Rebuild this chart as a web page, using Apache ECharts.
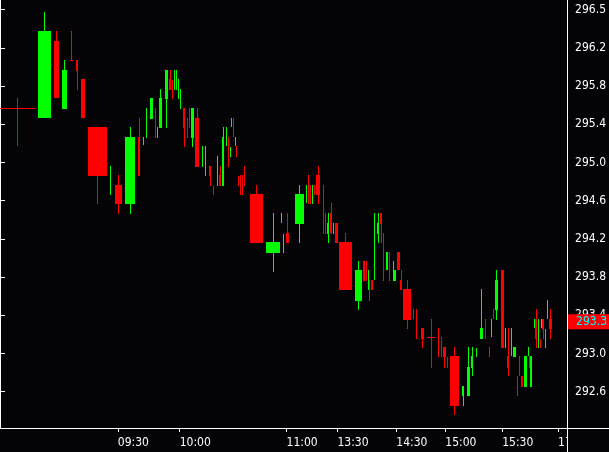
<!DOCTYPE html>
<html>
<head>
<meta charset="utf-8">
<script src="https://cdn.jsdelivr.net/npm/echarts@6.0.0/dist/echarts.min.js"></script>
<style>
html,body{margin:0;padding:0;background:#040305;}
#chart{width:609px;height:452px;}
</style>
</head>
<body>
<div id="chart"></div>
<script>
// Equivolume candles: cumulative volume at each candle's start, and its volume (width)
const cumVol = [0,38,54,62,70,76,81,88,110,115,125,138,143,146,150,155,157,159,165,169,172,174,176,178,180,183,187,189,191,195,202,205,209,213,217,219,222,226,228,230,231,233,235,236,238,240,242,244,250,266,281,283,286,295,306,308,310,312,314,316,324,326,328,331,334,336,340,356,364,367,369,370,372,375,378,381,384,387,390,394,395,398,401,404,414,417,422,428,439,442,444,448,451,463,468,472,477,481,486,490,492,494,496,502,506,508,512,514,518,520,522,525,529,530,531,535,536,539,541,542,543,546,548,550];
const vol = [35,13,5,5,3,2,4,19,1,7,10,2,1,1,3,1,1,3,3,2,1,1,1,1,1,2,1,1,3,4,1,1,2,1,1,2,2,1,1,1,1,1,1,1,1,1,1,1,13,14,1,1,3,9,1,1,1,1,1,5,1,1,2,2,1,3,13,7,2,1,1,1,2,1,2,2,1,2,1,1,2,3,2,8,1,1,3,8,1,1,3,1,9,2,3,2,1,3,1,1,1,1,3,3,1,2,1,3,1,1,2,3,1,1,2,1,2,1,1,1,2,1,1,3];
const open = [295.57,295.46,296.27,295.56,296.07,296.07,295.87,295.37,294.75,294.76,294.56,295.27,295.18,295.26,295.45,295.55,295.26,295.36,295.66,295.87,295.86,295.76,295.76,295.66,295.56,295.57,295.47,295.57,295.26,295.47,294.95,294.86,294.96,294.75,294.75,294.87,294.75,295.17,295.27,295.06,295.37,295.47,295.17,295.17,294.86,294.87,294.87,294.96,294.67,294.05,294.37,294.05,294.26,294.36,294.57,294.87,294.76,294.56,294.76,294.87,294.76,294.47,294.25,294.47,294.25,294.37,294.17,293.55,293.97,293.97,293.66,293.77,293.77,293.77,294.25,294.47,294.26,293.87,294.06,293.76,293.76,294.06,293.77,293.67,293.47,293.47,293.27,293.17,293.27,293.17,293.07,292.96,292.97,292.56,292.56,292.85,292.96,293.15,293.36,293.07,293.17,293.47,293.46,293.87,293.06,292.97,292.97,292.96,292.76,292.97,292.76,292.65,292.97,292.97,292.65,293.27,293.36,293.06,293.15,293.27,293.36,293.06,293.36,293.36];
const close = [295.57,296.38,295.67,295.97,296.06,295.96,295.46,294.86,294.76,294.56,295.27,294.86,295.25,295.57,295.67,295.28,295.37,295.67,295.97,295.76,295.66,295.97,295.97,295.87,295.77,295.36,295.26,295.36,295.57,294.95,295.17,295.17,294.86,294.66,295.07,294.75,295.27,295.37,294.95,295.16,295.47,295.37,295.27,295.06,294.75,294.66,294.66,294.75,294.16,294.17,294.47,294.25,294.16,294.67,294.76,294.56,294.56,294.66,294.66,294.66,294.25,294.36,294.37,294.26,294.37,294.16,293.66,293.87,293.76,293.87,293.87,293.55,293.66,294.47,294.37,294.36,293.97,294.06,293.87,293.97,293.87,293.87,293.66,293.35,293.36,293.15,293.15,293.17,292.96,292.96,292.96,292.85,292.45,292.66,292.86,292.97,293.06,293.27,293.15,292.96,293.36,293.36,293.77,293.06,293.27,292.85,293.27,293.07,292.56,292.76,292.65,292.97,293.07,292.85,292.97,293.36,293.15,293.36,293.06,293.36,293.26,293.26,293.56,293.26];
const low = [295.17,295.46,295.67,295.56,296.06,295.76,295.46,294.56,294.66,294.46,294.46,294.86,295.18,295.26,295.45,295.26,295.26,295.36,295.36,295.76,295.66,295.76,295.76,295.66,295.56,295.16,295.26,295.36,295.16,294.95,294.95,294.86,294.75,294.66,294.75,294.75,294.75,295.17,294.95,295.06,295.37,295.27,295.17,295.06,294.75,294.66,294.66,294.75,294.16,293.85,294.37,294.05,294.16,294.16,294.57,294.56,294.56,294.56,294.66,294.56,294.25,294.25,294.16,294.25,294.25,294.16,293.66,293.46,293.76,293.76,293.66,293.55,293.66,293.77,294.16,294.16,293.76,293.87,293.76,293.76,293.76,293.87,293.66,293.26,293.36,293.15,293.06,292.85,292.96,292.96,292.85,292.85,292.36,292.45,292.56,292.76,292.96,293.15,293.15,292.96,293.17,293.36,293.35,293.06,293.06,292.76,292.97,292.96,292.56,292.76,292.65,292.65,292.97,292.85,292.65,293.27,293.06,293.06,293.06,293.27,293.15,293.06,293.36,293.15];
const high = [295.67,296.57,296.38,296.07,296.38,296.07,295.87,295.37,294.96,294.87,295.37,295.47,295.27,295.57,295.67,295.57,295.37,295.77,295.97,295.97,295.86,295.97,295.97,295.87,295.77,295.57,295.47,295.57,295.57,295.57,295.17,295.17,294.96,294.75,295.07,294.96,295.37,295.37,295.27,295.16,295.47,295.47,295.27,295.17,294.86,294.87,294.87,294.96,294.76,294.47,294.47,294.25,294.47,294.76,294.76,294.87,294.76,294.76,294.76,294.96,294.76,294.47,294.47,294.57,294.37,294.37,294.26,293.97,293.97,293.97,293.87,293.77,293.77,294.47,294.47,294.47,294.26,294.06,294.06,293.97,293.87,294.06,293.87,293.77,293.47,293.47,293.27,293.36,293.27,293.17,293.07,292.96,293.07,292.66,293.07,293.07,293.06,293.67,293.36,293.07,293.36,293.47,293.87,293.87,293.27,293.27,293.27,293.07,292.76,292.97,292.76,292.97,293.07,292.97,292.97,293.36,293.47,293.36,293.15,293.36,293.36,293.26,293.56,293.47];

const xTickValues = [118, 180, 287, 338, 397, 446, 503, 559];
const xTickLabels = ['09:30', '10:00', '11:00', '13:30', '14:30', '15:00', '15:30', '17:00'];
const yTickValues = [292.6, 293.0, 293.4, 293.8, 294.2, 294.6, 295.0, 295.4, 295.8, 296.2, 296.6];
const yTickLabels = ['292.6', '293.0', '293.4', '293.8', '294.2', '294.6', '295.0', '295.4', '295.8', '296.2', '296.5'];

const X_MIN = 0, X_MAX = 567;
const Y_MIN = 292.22, Y_MAX = 296.70;

const GREEN = '#00ff00', RED = '#ff0000', FG = '#ffffff', BG = '#040305';
const FONT = "'Liberation Sans Narrow', 'DejaVu Sans Condensed', sans-serif";

const data = cumVol.map((s, i) => [s, vol[i], open[i], close[i], low[i], high[i]]);

function renderItem(params, api) {
  const s = api.value(0), w = api.value(1);
  const o = api.value(2), c = api.value(3), l = api.value(4), h = api.value(5);
  const pO = api.coord([s, o]);
  const xl = Math.round(pO[0]);
  const xr = Math.max(xl + 1, Math.round(api.coord([s + w, o])[0]));
  const yo = pO[1], yc = api.coord([s, c])[1];
  const yl = Math.round(api.coord([s, l])[1]), yh = Math.round(api.coord([s, h])[1]);
  const top = Math.round(Math.min(yo, yc));
  const bot = Math.max(top + 1, Math.round(Math.max(yo, yc)));
  const color = c > o ? GREEN : RED;
  const cx = Math.min(Math.floor((xl + xr) / 2), xr - 1);
  return {
    type: 'group',
    children: [
      { type: 'rect', shape: { x: cx, y: yh, width: 1, height: Math.max(1, yl - yh) }, style: { fill: color } },
      { type: 'rect', shape: { x: xl, y: top, width: xr - xl, height: bot - top }, style: { fill: color } }
    ]
  };
}

const chart = echarts.init(document.getElementById('chart'), null, { renderer: 'canvas' });
chart.setOption({
  animation: false,
  backgroundColor: BG,
  grid: { left: 0, right: 42, top: 0, bottom: 24, containLabel: false },
  xAxis: {
    type: 'value', min: X_MIN, max: X_MAX,
    splitLine: { show: false },
    axisLine: { show: true, lineStyle: { color: FG, width: 1 } },
    axisTick: { show: true, length: 4, customValues: xTickValues, lineStyle: { color: FG } },
    axisLabel: {
      show: true, customValues: xTickValues, color: FG, fontFamily: FONT, fontSize: 12,
      align: 'left', margin: 9,
      formatter: v => { const i = xTickValues.indexOf(v); return i >= 0 ? xTickLabels[i] : ''; }
    }
  },
  yAxis: {
    type: 'value', position: 'right', min: Y_MIN, max: Y_MAX, scale: true,
    splitLine: { show: false },
    axisLine: { show: true, lineStyle: { color: FG, width: 1 } },
    axisTick: { show: true, length: 5, customValues: yTickValues, lineStyle: { color: FG } },
    axisLabel: {
      show: true, customValues: yTickValues, color: FG, fontFamily: FONT, fontSize: 12, margin: 9,
      formatter: v => { const i = yTickValues.findIndex(t => Math.abs(t - v) < 1e-6); return i >= 0 ? yTickLabels[i] : ''; }
    }
  },
  series: [{
    type: 'custom',
    renderItem: renderItem,
    data: data,
    encode: { x: 0, y: [2, 3, 4, 5] },
    clip: true,
    markLine: {
      silent: true,
      symbol: 'none',
      z: 50,
      data: [{ yAxis: close[close.length - 1] }],
      lineStyle: { color: 'rgba(0,0,0,0)', width: 1, type: 'solid' },
      label: {
        show: true, position: 'end', distance: 1, offset: [0, -7],
        formatter: p => Number(p.value).toFixed(1),
        color: '#00ffff', backgroundColor: RED, opacity: 1,
        padding: [2, 4, 1, 9], fontFamily: FONT, fontSize: 12
      }
    }
  }],
  graphic: [
    { type: 'rect', z: 100, shape: { x: 568, y: 429, width: 41, height: 23 }, style: { fill: BG } },
    { type: 'line', z: 101, shape: { x1: 0, y1: 428.5, x2: 609, y2: 428.5 }, style: { stroke: FG, lineWidth: 1 } },
    { type: 'line', z: 101, shape: { x1: 567.5, y1: 0, x2: 567.5, y2: 452 }, style: { stroke: FG, lineWidth: 1 } }
  ]
});
</script>
</body>
</html>
